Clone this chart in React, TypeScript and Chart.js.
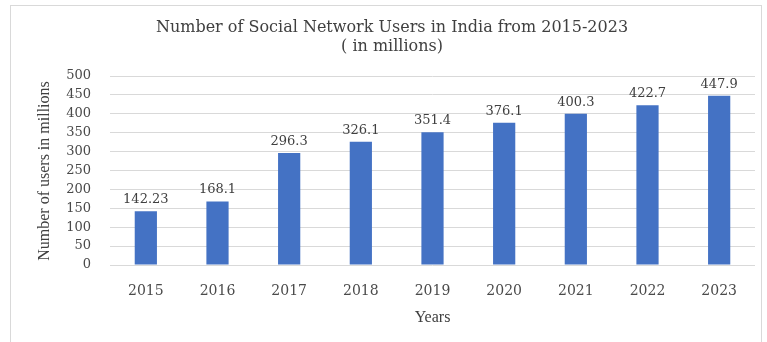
import React, { useEffect, useRef } from "react";
import { Chart, registerables } from "chart.js";

Chart.register(...registerables);

const years = ["2015", "2016", "2017", "2018", "2019", "2020", "2021", "2022", "2023"];
const users = [142.23, 168.1, 296.3, 326.1, 351.4, 376.1, 400.3, 422.7, 447.9];
const userLabels = ["142.23", "168.1", "296.3", "326.1", "351.4", "376.1", "400.3", "422.7", "447.9"];
const titleLines = ["Number of Social Network Users in India from 2015-2023", "( in millions)"];
const yTitle = "Number of users in millions";
const xTitle = "Years";

const SERIF = "'DejaVu Serif', 'Liberation Serif', serif";
const TIMES = "'Liberation Serif', serif";

const textPlugin = {
  id: "textPlugin",
  afterDatasetsDraw(chart: any) {
    const ctx = chart.ctx;
    const area = chart.chartArea;
    const meta = chart.getDatasetMeta(0);
    ctx.save();
    // data labels
    ctx.font = `13px ${SERIF}`;
    ctx.fillStyle = "#404040";
    ctx.textAlign = "center";
    ctx.textBaseline = "bottom";
    meta.data.forEach((bar: any, i: number) => {
      ctx.fillText(userLabels[i], bar.x, bar.y - 5);
    });
    // title
    ctx.font = `16px ${SERIF}`;
    ctx.fillStyle = "#404040";
    ctx.textBaseline = "middle";
    ctx.fillText(titleLines[0], 392, 28);
    ctx.fillText(titleLines[1], 392, 47);
    // x title
    ctx.font = `16px ${TIMES}`;
    ctx.fillStyle = "#404040";
    ctx.fillText(xTitle, (area.left + area.right) / 2, 318);
    // y title
    ctx.translate(45, 171);
    ctx.rotate(-Math.PI / 2);
    ctx.font = `16px ${TIMES}`;
    ctx.fillText(yTitle, 0, 0);
    ctx.restore();
  },
};

export default function App() {
  const ref = useRef<HTMLCanvasElement | null>(null);
  useEffect(() => {
    if (!ref.current) return;
    const chart = new Chart(ref.current, {
      type: "bar",
      data: {
        labels: years,
        datasets: [
          {
            data: users,
            backgroundColor: "#4472C4",
            borderWidth: 0,
            barPercentage: 0.31,
            categoryPercentage: 1,
          },
        ],
      },
      options: {
        responsive: false,
        animation: false,
        layout: { padding: { left: 0, right: 12, top: 76, bottom: 0 } },
        plugins: {
          legend: { display: false },
          title: { display: false },
          tooltip: { enabled: false },
        },
        scales: {
          x: {
            grid: { display: false },
            border: { display: false },
            ticks: {
              color: "#4a4a4a",
              font: { family: SERIF, size: 14 },
              padding: 10,
            },
            afterFit: (s: any) => {
              s.height = 77;
            },
          },
          y: {
            min: 0,
            max: 500,
            ticks: {
              stepSize: 50,
              color: "#4a4a4a",
              font: { family: SERIF, size: 13 },
              padding: 19,
            },
            grid: { color: "#d9d9d9", drawTicks: false },
            border: { display: false },
            afterFit: (s: any) => {
              s.width = 110;
            },
          },
        },
      },
      plugins: [textPlugin],
    });
    return () => chart.destroy();
  }, []);
  return (
    <div style={{ position: "fixed", left: 0, top: 0, width: 767, height: 342, background: "#fff" }}>
      <canvas ref={ref} width={767} height={342} style={{ position: "absolute", left: 0, top: 0 }} />
      <div
        style={{
          position: "absolute",
          left: 10,
          top: 5,
          width: 752,
          height: 340,
          border: "1px solid #d9d9d9",
          boxSizing: "border-box",
          pointerEvents: "none",
        }}
      />
    </div>
  );
}
